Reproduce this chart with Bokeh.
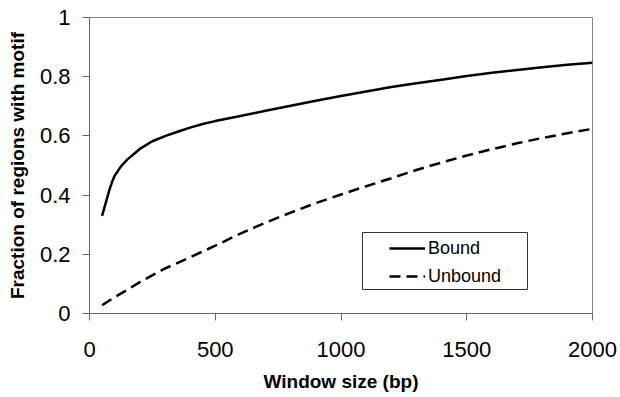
from bokeh.plotting import figure
from bokeh.models import Range1d, FixedTicker, Legend, LegendItem, BoxAnnotation
from bokeh.embed import file_html
from bokeh.resources import INLINE

# ---- data ----
bound_window = [50, 60, 70, 80, 90, 100, 125, 150, 200, 250, 300, 350, 400, 450, 500,
                600, 700, 800, 900, 1000, 1100, 1200, 1300, 1400, 1500, 1600, 1700,
                1800, 1900, 2000]
bound_fraction = [0.33, 0.36, 0.39, 0.42, 0.445, 0.465, 0.497, 0.52, 0.556, 0.582, 0.599,
                  0.614, 0.628, 0.64, 0.65, 0.667, 0.685, 0.702, 0.719, 0.735, 0.75,
                  0.765, 0.778, 0.79, 0.802, 0.813, 0.823, 0.832, 0.84, 0.847]
unbound_window = [50, 100, 150, 200, 300, 400, 500, 600, 700, 800, 900, 1000, 1100, 1200,
                  1300, 1400, 1500, 1600, 1700, 1800, 1900, 2000]
unbound_fraction = [0.028, 0.055, 0.08, 0.106, 0.152, 0.19, 0.229, 0.27, 0.307, 0.341,
                    0.373, 0.402, 0.43, 0.457, 0.485, 0.51, 0.534, 0.555, 0.575, 0.593,
                    0.609, 0.624]
series_names = ["Bound", "Unbound"]
x_ticks = [0, 500, 1000, 1500, 2000]
y_ticks = [0, 0.2, 0.4, 0.6, 0.8, 1.0]
y_tick_labels = ["0", "0.2", "0.4", "0.6", "0.8", "1"]

FONT = "Liberation Sans"
AXIS_GRAY = "#666666"

p = figure(width=620, height=397, output_backend="svg", toolbar_location=None,
           x_range=Range1d(0, 2000), y_range=Range1d(0, 1),
           min_border_left=89, min_border_right=28, min_border_top=17,
           min_border_bottom=84,
           x_axis_label="Window size (bp)",
           y_axis_label="Fraction of regions with motif")

p.grid.visible = False
p.outline_line_color = "#888888"
p.outline_line_width = 1
p.background_fill_color = "white"
p.border_fill_color = "white"

for ax in (p.xaxis[0], p.yaxis[0]):
    ax.axis_line_color = AXIS_GRAY
    ax.major_tick_line_color = AXIS_GRAY
    ax.minor_tick_line_color = None
    ax.major_tick_in = 0
    ax.major_tick_out = 7
    ax.major_label_text_font = FONT
    ax.major_label_text_font_size = "22px"
    ax.major_label_text_color = "black"
    ax.axis_label_text_font = FONT
    ax.axis_label_text_font_size = "19px"
    ax.axis_label_text_font_style = "bold"
    ax.axis_label_text_color = "black"

p.xaxis[0].ticker = FixedTicker(ticks=x_ticks)
p.xaxis[0].major_label_standoff = 21
p.xaxis[0].axis_label_standoff = 11

p.yaxis[0].ticker = FixedTicker(ticks=y_ticks)
p.yaxis[0].major_label_overrides = {t: l for t, l in zip(y_ticks, y_tick_labels)}
p.yaxis[0].major_label_standoff = 12
p.yaxis[0].axis_label_standoff = 9

r_bound = p.line(bound_window, bound_fraction, line_color="black", line_width=2.5,
                 line_join="round")
r_unbound = p.line(unbound_window, unbound_fraction, line_color="black", line_width=2.5,
                   line_dash="11 6")

# legend frame (canvas pixels)
legend_box = BoxAnnotation(left=362, right=527, top=232, bottom=289,
                           left_units="canvas", right_units="canvas",
                           top_units="canvas", bottom_units="canvas",
                           fill_color="white", fill_alpha=1.0,
                           line_color="#333333", line_width=1, line_alpha=1.0,
                           propagate_hover=False)
p.add_layout(legend_box)

items = [LegendItem(label=series_names[0], renderers=[r_bound]),
         LegendItem(label=series_names[1], renderers=[r_unbound])]
legend = Legend(items=items, location=(296, 22), orientation="vertical",
                border_line_alpha=0, background_fill_alpha=0,
                label_text_font=FONT, label_text_font_size="18px",
                label_text_color="black",
                glyph_width=36, glyph_height=22, label_height=22,
                label_standoff=3, spacing=6, padding=4, margin=0)
p.add_layout(legend, "center")

open("out.html", "w").write(file_html(p, INLINE))
